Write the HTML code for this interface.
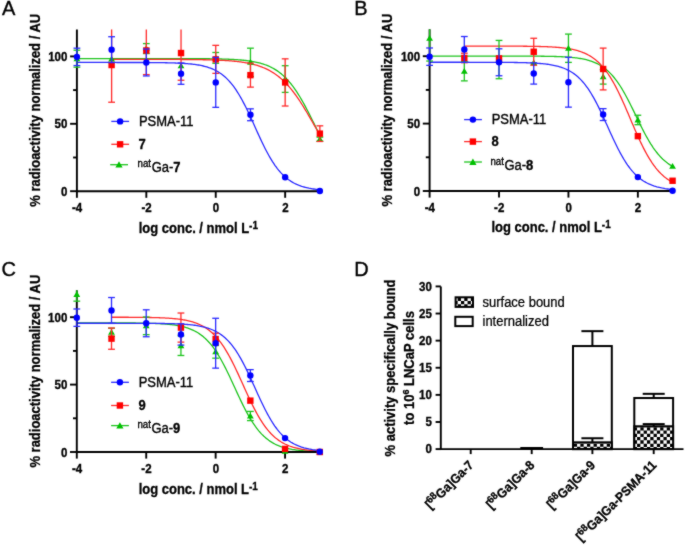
<!DOCTYPE html><html><head><meta charset="utf-8"><style>html,body{margin:0;padding:0;background:#fff;overflow:hidden}svg{display:block;will-change:transform}</style></head><body><svg width="685" height="545" viewBox="0 0 685 545">
<defs><filter id="soft" x="0" y="0" width="685" height="545" filterUnits="userSpaceOnUse" color-interpolation-filters="sRGB"><feConvolveMatrix order="3" kernelMatrix="0.5 1 0.5 1 10 1 0.5 1 0.5" edgeMode="duplicate" preserveAlpha="true"/></filter></defs>
<g filter="url(#soft)">
<rect width="685" height="545" fill="#fff"/>
<text x="2.0" y="14.7" style="font-family:'Liberation Sans',sans-serif;font-size:20px;stroke:#000;stroke-width:0.35px">A</text>
<text x="354.3" y="14.7" style="font-family:'Liberation Sans',sans-serif;font-size:20px;stroke:#000;stroke-width:0.35px">B</text>
<text x="1.5" y="276.0" style="font-family:'Liberation Sans',sans-serif;font-size:20px;stroke:#000;stroke-width:0.35px">C</text>
<text x="354.3" y="276.0" style="font-family:'Liberation Sans',sans-serif;font-size:20px;stroke:#000;stroke-width:0.35px">D</text>
<path d="M76.9,58.56 L78.11,58.56 L79.33,58.56 L80.54,58.56 L81.76,58.56 L82.97,58.56 L84.19,58.56 L85.4,58.56 L86.62,58.56 L87.83,58.56 L89.05,58.56 L90.26,58.56 L91.48,58.56 L92.69,58.56 L93.91,58.56 L95.12,58.56 L96.34,58.56 L97.55,58.56 L98.77,58.56 L99.98,58.56 L101.2,58.56 L102.41,58.56 L103.63,58.56 L104.84,58.56 L106.06,58.56 L107.27,58.56 L108.49,58.56 L109.7,58.56 L110.92,58.56 L112.13,58.56 L113.35,58.56 L114.56,58.56 L115.78,58.56 L116.99,58.56 L118.2,58.56 L119.42,58.56 L120.63,58.56 L121.85,58.56 L123.06,58.56 L124.28,58.56 L125.49,58.56 L126.71,58.56 L127.92,58.56 L129.14,58.56 L130.35,58.56 L131.57,58.56 L132.78,58.56 L134,58.56 L135.21,58.56 L136.43,58.56 L137.64,58.56 L138.86,58.56 L140.07,58.56 L141.29,58.56 L142.5,58.56 L143.72,58.56 L144.93,58.56 L146.15,58.56 L147.36,58.56 L148.58,58.56 L149.79,58.56 L151.01,58.56 L152.22,58.56 L153.44,58.56 L154.65,58.56 L155.87,58.56 L157.08,58.57 L158.29,58.57 L159.51,58.57 L160.72,58.57 L161.94,58.57 L163.15,58.57 L164.37,58.57 L165.58,58.57 L166.8,58.57 L168.01,58.57 L169.23,58.58 L170.44,58.58 L171.66,58.58 L172.87,58.58 L174.09,58.58 L175.3,58.58 L176.52,58.59 L177.73,58.59 L178.95,58.59 L180.16,58.59 L181.38,58.6 L182.59,58.6 L183.81,58.6 L185.02,58.61 L186.24,58.61 L187.45,58.61 L188.67,58.62 L189.88,58.62 L191.1,58.63 L192.31,58.63 L193.53,58.64 L194.74,58.64 L195.96,58.65 L197.17,58.66 L198.38,58.67 L199.6,58.67 L200.81,58.68 L202.03,58.69 L203.24,58.7 L204.46,58.72 L205.67,58.73 L206.89,58.74 L208.1,58.76 L209.32,58.77 L210.53,58.79 L211.75,58.8 L212.96,58.82 L214.18,58.84 L215.39,58.87 L216.61,58.89 L217.82,58.92 L219.04,58.94 L220.25,58.97 L221.47,59 L222.68,59.04 L223.9,59.08 L225.11,59.12 L226.33,59.16 L227.54,59.2 L228.76,59.25 L229.97,59.31 L231.19,59.36 L232.4,59.43 L233.62,59.49 L234.83,59.56 L236.05,59.64 L237.26,59.72 L238.48,59.81 L239.69,59.91 L240.9,60.01 L242.12,60.12 L243.33,60.24 L244.55,60.37 L245.76,60.51 L246.98,60.65 L248.19,60.81 L249.41,60.98 L250.62,61.17 L251.84,61.36 L253.05,61.57 L254.27,61.8 L255.48,62.04 L256.7,62.31 L257.91,62.58 L259.13,62.88 L260.34,63.21 L261.56,63.55 L262.77,63.92 L263.99,64.31 L265.2,64.74 L266.42,65.19 L267.63,65.67 L268.85,66.19 L270.06,66.74 L271.28,67.33 L272.49,67.95 L273.71,68.62 L274.92,69.33 L276.14,70.09 L277.35,70.9 L278.57,71.75 L279.78,72.66 L280.99,73.62 L282.21,74.64 L283.42,75.72 L284.64,76.86 L285.85,78.06 L287.07,79.32 L288.28,80.65 L289.5,82.05 L290.71,83.52 L291.93,85.06 L293.14,86.67 L294.36,88.34 L295.57,90.09 L296.79,91.91 L298,93.79 L299.22,95.74 L300.43,97.76 L301.65,99.84 L302.86,101.98 L304.08,104.17 L305.29,106.41 L306.51,108.7 L307.72,111.04 L308.94,113.4 L310.15,115.8 L311.37,118.23 L312.58,120.67 L313.8,123.12 L315.01,125.58 L316.23,128.04 L317.44,130.48 L318.66,132.92 L319.87,135.33" fill="none" stroke="#1ec41e" stroke-width="1.3"/>
<path d="M111.61,59.37 L112.65,59.37 L113.69,59.37 L114.73,59.37 L115.78,59.37 L116.82,59.37 L117.86,59.37 L118.9,59.37 L119.94,59.37 L120.98,59.37 L122.02,59.37 L123.06,59.37 L124.11,59.37 L125.15,59.37 L126.19,59.37 L127.23,59.37 L128.27,59.37 L129.31,59.37 L130.35,59.37 L131.39,59.37 L132.44,59.37 L133.48,59.37 L134.52,59.38 L135.56,59.38 L136.6,59.38 L137.64,59.38 L138.68,59.38 L139.73,59.38 L140.77,59.38 L141.81,59.38 L142.85,59.38 L143.89,59.38 L144.93,59.38 L145.97,59.38 L147.01,59.38 L148.06,59.39 L149.1,59.39 L150.14,59.39 L151.18,59.39 L152.22,59.39 L153.26,59.39 L154.3,59.39 L155.34,59.39 L156.39,59.4 L157.43,59.4 L158.47,59.4 L159.51,59.4 L160.55,59.4 L161.59,59.41 L162.63,59.41 L163.68,59.41 L164.72,59.41 L165.76,59.42 L166.8,59.42 L167.84,59.42 L168.88,59.42 L169.92,59.43 L170.96,59.43 L172.01,59.43 L173.05,59.44 L174.09,59.44 L175.13,59.45 L176.17,59.45 L177.21,59.46 L178.25,59.46 L179.29,59.47 L180.34,59.47 L181.38,59.48 L182.42,59.49 L183.46,59.49 L184.5,59.5 L185.54,59.51 L186.58,59.52 L187.62,59.52 L188.67,59.53 L189.71,59.54 L190.75,59.55 L191.79,59.56 L192.83,59.57 L193.87,59.59 L194.91,59.6 L195.96,59.61 L197,59.63 L198.04,59.64 L199.08,59.66 L200.12,59.67 L201.16,59.69 L202.2,59.71 L203.24,59.73 L204.29,59.75 L205.33,59.77 L206.37,59.79 L207.41,59.82 L208.45,59.84 L209.49,59.87 L210.53,59.9 L211.57,59.93 L212.62,59.96 L213.66,59.99 L214.7,60.03 L215.74,60.07 L216.78,60.11 L217.82,60.15 L218.86,60.19 L219.91,60.24 L220.95,60.29 L221.99,60.34 L223.03,60.4 L224.07,60.45 L225.11,60.51 L226.15,60.58 L227.19,60.65 L228.24,60.72 L229.28,60.8 L230.32,60.88 L231.36,60.96 L232.4,61.05 L233.44,61.14 L234.48,61.24 L235.52,61.35 L236.57,61.46 L237.61,61.58 L238.65,61.7 L239.69,61.83 L240.73,61.97 L241.77,62.11 L242.81,62.27 L243.86,62.43 L244.9,62.6 L245.94,62.77 L246.98,62.96 L248.02,63.16 L249.06,63.37 L250.1,63.59 L251.14,63.82 L252.19,64.07 L253.23,64.32 L254.27,64.59 L255.31,64.88 L256.35,65.18 L257.39,65.49 L258.43,65.83 L259.47,66.17 L260.52,66.54 L261.56,66.92 L262.6,67.33 L263.64,67.75 L264.68,68.19 L265.72,68.66 L266.76,69.15 L267.81,69.66 L268.85,70.2 L269.89,70.76 L270.93,71.35 L271.97,71.97 L273.01,72.61 L274.05,73.28 L275.09,73.99 L276.14,74.72 L277.18,75.49 L278.22,76.28 L279.26,77.12 L280.3,77.98 L281.34,78.88 L282.38,79.82 L283.42,80.79 L284.47,81.8 L285.51,82.85 L286.55,83.94 L287.59,85.06 L288.63,86.22 L289.67,87.43 L290.71,88.67 L291.75,89.94 L292.8,91.26 L293.84,92.62 L294.88,94.01 L295.92,95.44 L296.96,96.91 L298,98.41 L299.04,99.94 L300.09,101.51 L301.13,103.11 L302.17,104.74 L303.21,106.4 L304.25,108.08 L305.29,109.79 L306.33,111.52 L307.37,113.28 L308.42,115.05 L309.46,116.83 L310.5,118.63 L311.54,120.43 L312.58,122.25 L313.62,124.07 L314.66,125.89 L315.7,127.71 L316.75,129.53 L317.79,131.34 L318.83,133.14 L319.87,134.93" fill="none" stroke="#ff2a2a" stroke-width="1.3"/>
<path d="M76.9,62.47 L78.11,62.47 L79.33,62.47 L80.54,62.47 L81.76,62.47 L82.97,62.47 L84.19,62.47 L85.4,62.47 L86.62,62.47 L87.83,62.47 L89.05,62.47 L90.26,62.47 L91.48,62.47 L92.69,62.47 L93.91,62.47 L95.12,62.47 L96.34,62.47 L97.55,62.47 L98.77,62.47 L99.98,62.47 L101.2,62.47 L102.41,62.47 L103.63,62.47 L104.84,62.47 L106.06,62.47 L107.27,62.47 L108.49,62.47 L109.7,62.47 L110.92,62.47 L112.13,62.47 L113.35,62.47 L114.56,62.47 L115.78,62.47 L116.99,62.48 L118.2,62.48 L119.42,62.48 L120.63,62.48 L121.85,62.48 L123.06,62.48 L124.28,62.48 L125.49,62.48 L126.71,62.48 L127.92,62.49 L129.14,62.49 L130.35,62.49 L131.57,62.49 L132.78,62.49 L134,62.5 L135.21,62.5 L136.43,62.5 L137.64,62.51 L138.86,62.51 L140.07,62.51 L141.29,62.52 L142.5,62.52 L143.72,62.53 L144.93,62.53 L146.15,62.54 L147.36,62.54 L148.58,62.55 L149.79,62.56 L151.01,62.56 L152.22,62.57 L153.44,62.58 L154.65,62.59 L155.87,62.6 L157.08,62.62 L158.29,62.63 L159.51,62.64 L160.72,62.66 L161.94,62.68 L163.15,62.69 L164.37,62.71 L165.58,62.74 L166.8,62.76 L168.01,62.78 L169.23,62.81 L170.44,62.84 L171.66,62.88 L172.87,62.91 L174.09,62.95 L175.3,62.99 L176.52,63.04 L177.73,63.09 L178.95,63.14 L180.16,63.2 L181.38,63.26 L182.59,63.33 L183.81,63.41 L185.02,63.49 L186.24,63.58 L187.45,63.68 L188.67,63.78 L189.88,63.89 L191.1,64.02 L192.31,64.15 L193.53,64.3 L194.74,64.45 L195.96,64.63 L197.17,64.81 L198.38,65.01 L199.6,65.23 L200.81,65.47 L202.03,65.72 L203.24,66 L204.46,66.3 L205.67,66.62 L206.89,66.97 L208.1,67.35 L209.32,67.76 L210.53,68.2 L211.75,68.68 L212.96,69.2 L214.18,69.75 L215.39,70.35 L216.61,70.99 L217.82,71.68 L219.04,72.43 L220.25,73.23 L221.47,74.08 L222.68,75 L223.9,75.98 L225.11,77.03 L226.33,78.14 L227.54,79.34 L228.76,80.6 L229.97,81.95 L231.19,83.37 L232.4,84.88 L233.62,86.48 L234.83,88.16 L236.05,89.93 L237.26,91.78 L238.48,93.72 L239.69,95.75 L240.9,97.86 L242.12,100.05 L243.33,102.32 L244.55,104.66 L245.76,107.07 L246.98,109.54 L248.19,112.07 L249.41,114.65 L250.62,117.27 L251.84,119.92 L253.05,122.6 L254.27,125.29 L255.48,127.99 L256.7,130.68 L257.91,133.36 L259.13,136.02 L260.34,138.64 L261.56,141.23 L262.77,143.77 L263.99,146.25 L265.2,148.67 L266.42,151.02 L267.63,153.3 L268.85,155.5 L270.06,157.62 L271.28,159.66 L272.49,161.61 L273.71,163.48 L274.92,165.26 L276.14,166.95 L277.35,168.56 L278.57,170.08 L279.78,171.52 L280.99,172.88 L282.21,174.15 L283.42,175.36 L284.64,176.48 L285.85,177.54 L287.07,178.53 L288.28,179.46 L289.5,180.32 L290.71,181.13 L291.93,181.88 L293.14,182.58 L294.36,183.23 L295.57,183.83 L296.79,184.39 L298,184.91 L299.22,185.4 L300.43,185.84 L301.65,186.26 L302.86,186.64 L304.08,187 L305.29,187.32 L306.51,187.63 L307.72,187.91 L308.94,188.17 L310.15,188.4 L311.37,188.62 L312.58,188.83 L313.8,189.01 L315.01,189.19 L316.23,189.35 L317.44,189.49 L318.66,189.63 L319.87,189.75" fill="none" stroke="#2a2aff" stroke-width="1.3"/>
<path d="M76.9,29.44 V191.2 H319.87" fill="none" stroke="#000" stroke-width="1.9"/>
<line x1="70.1" y1="191.2" x2="76.9" y2="191.2" stroke="#000" stroke-width="1.9"/>
<text transform="translate(67.4,195.8) scale(0.9174,1)" text-anchor="end" style="font-family:'Liberation Sans',sans-serif;font-weight:bold;stroke:#000;stroke-width:0.35px;font-size:12.54px">0</text>
<line x1="70.1" y1="123.8" x2="76.9" y2="123.8" stroke="#000" stroke-width="1.9"/>
<text transform="translate(67.4,128.4) scale(0.9174,1)" text-anchor="end" style="font-family:'Liberation Sans',sans-serif;font-weight:bold;stroke:#000;stroke-width:0.35px;font-size:12.54px">50</text>
<line x1="70.1" y1="56.4" x2="76.9" y2="56.4" stroke="#000" stroke-width="1.9"/>
<text transform="translate(67.4,61) scale(0.9174,1)" text-anchor="end" style="font-family:'Liberation Sans',sans-serif;font-weight:bold;stroke:#000;stroke-width:0.35px;font-size:12.54px">100</text>
<line x1="73.1" y1="157.5" x2="76.9" y2="157.5" stroke="#000" stroke-width="1.9"/>
<line x1="73.1" y1="90.1" x2="76.9" y2="90.1" stroke="#000" stroke-width="1.9"/>
<line x1="76.9" y1="191.2" x2="76.9" y2="197.8" stroke="#000" stroke-width="1.9"/>
<text transform="translate(77.1,212.1) scale(0.9174,1)" text-anchor="middle" style="font-family:'Liberation Sans',sans-serif;font-weight:bold;stroke:#000;stroke-width:0.35px;font-size:12.54px">-4</text>
<line x1="146.32" y1="191.2" x2="146.32" y2="197.8" stroke="#000" stroke-width="1.9"/>
<text transform="translate(146.52,212.1) scale(0.9174,1)" text-anchor="middle" style="font-family:'Liberation Sans',sans-serif;font-weight:bold;stroke:#000;stroke-width:0.35px;font-size:12.54px">-2</text>
<line x1="215.74" y1="191.2" x2="215.74" y2="197.8" stroke="#000" stroke-width="1.9"/>
<text transform="translate(215.94,212.1) scale(0.9174,1)" text-anchor="middle" style="font-family:'Liberation Sans',sans-serif;font-weight:bold;stroke:#000;stroke-width:0.35px;font-size:12.54px">0</text>
<line x1="285.16" y1="191.2" x2="285.16" y2="197.8" stroke="#000" stroke-width="1.9"/>
<text transform="translate(285.36,212.1) scale(0.9174,1)" text-anchor="middle" style="font-family:'Liberation Sans',sans-serif;font-weight:bold;stroke:#000;stroke-width:0.35px;font-size:12.54px">2</text>
<line x1="76.9" y1="50.2" x2="76.9" y2="67.18" stroke="#1ec41e" stroke-width="1.3"/>
<line x1="73.5" y1="50.2" x2="80.3" y2="50.2" stroke="#1ec41e" stroke-width="1.3"/>
<line x1="73.5" y1="67.18" x2="80.3" y2="67.18" stroke="#1ec41e" stroke-width="1.3"/>
<line x1="146.32" y1="43.59" x2="146.32" y2="53.57" stroke="#1ec41e" stroke-width="1.3"/>
<line x1="142.92" y1="43.59" x2="149.72" y2="43.59" stroke="#1ec41e" stroke-width="1.3"/>
<line x1="142.92" y1="53.57" x2="149.72" y2="53.57" stroke="#1ec41e" stroke-width="1.3"/>
<line x1="215.74" y1="52.49" x2="215.74" y2="63.27" stroke="#1ec41e" stroke-width="1.3"/>
<line x1="212.34" y1="52.49" x2="219.14" y2="52.49" stroke="#1ec41e" stroke-width="1.3"/>
<line x1="212.34" y1="63.27" x2="219.14" y2="63.27" stroke="#1ec41e" stroke-width="1.3"/>
<line x1="250.45" y1="48.18" x2="250.45" y2="76.49" stroke="#1ec41e" stroke-width="1.3"/>
<line x1="247.05" y1="48.18" x2="253.85" y2="48.18" stroke="#1ec41e" stroke-width="1.3"/>
<line x1="247.05" y1="76.49" x2="253.85" y2="76.49" stroke="#1ec41e" stroke-width="1.3"/>
<line x1="285.16" y1="65.7" x2="285.16" y2="92.39" stroke="#1ec41e" stroke-width="1.3"/>
<line x1="281.76" y1="65.7" x2="288.56" y2="65.7" stroke="#1ec41e" stroke-width="1.3"/>
<line x1="281.76" y1="92.39" x2="288.56" y2="92.39" stroke="#1ec41e" stroke-width="1.3"/>
<line x1="319.87" y1="137.15" x2="319.87" y2="141.19" stroke="#1ec41e" stroke-width="1.3"/>
<line x1="316.47" y1="137.15" x2="323.27" y2="137.15" stroke="#1ec41e" stroke-width="1.3"/>
<line x1="316.47" y1="141.19" x2="323.27" y2="141.19" stroke="#1ec41e" stroke-width="1.3"/>
<path d="M76.9,55.39 L80.3,61.19 L73.5,61.19 Z" fill="#00c000"/>
<path d="M111.61,55.8 L115.01,61.6 L108.21,61.6 Z" fill="#00c000"/>
<path d="M146.32,45.28 L149.72,51.08 L142.92,51.08 Z" fill="#00c000"/>
<path d="M181.03,62.4 L184.43,68.2 L177.63,68.2 Z" fill="#00c000"/>
<path d="M215.74,54.58 L219.14,60.38 L212.34,60.38 Z" fill="#00c000"/>
<path d="M250.45,59.03 L253.85,64.83 L247.05,64.83 Z" fill="#00c000"/>
<path d="M285.16,75.75 L288.56,81.55 L281.76,81.55 Z" fill="#00c000"/>
<path d="M319.87,135.87 L323.27,141.67 L316.47,141.67 Z" fill="#00c000"/>
<line x1="111.61" y1="29.44" x2="111.61" y2="102.23" stroke="#ff2a2a" stroke-width="1.3"/>
<line x1="108.21" y1="102.23" x2="115.01" y2="102.23" stroke="#ff2a2a" stroke-width="1.3"/>
<line x1="146.32" y1="29.44" x2="146.32" y2="74.6" stroke="#ff2a2a" stroke-width="1.3"/>
<line x1="142.92" y1="74.6" x2="149.72" y2="74.6" stroke="#ff2a2a" stroke-width="1.3"/>
<line x1="181.03" y1="29.44" x2="181.03" y2="80.26" stroke="#ff2a2a" stroke-width="1.3"/>
<line x1="177.63" y1="80.26" x2="184.43" y2="80.26" stroke="#ff2a2a" stroke-width="1.3"/>
<line x1="215.74" y1="45.35" x2="215.74" y2="73.38" stroke="#ff2a2a" stroke-width="1.3"/>
<line x1="212.34" y1="45.35" x2="219.14" y2="45.35" stroke="#ff2a2a" stroke-width="1.3"/>
<line x1="212.34" y1="73.38" x2="219.14" y2="73.38" stroke="#ff2a2a" stroke-width="1.3"/>
<line x1="250.45" y1="63.14" x2="250.45" y2="87.13" stroke="#ff2a2a" stroke-width="1.3"/>
<line x1="247.05" y1="63.14" x2="253.85" y2="63.14" stroke="#ff2a2a" stroke-width="1.3"/>
<line x1="247.05" y1="87.13" x2="253.85" y2="87.13" stroke="#ff2a2a" stroke-width="1.3"/>
<line x1="285.16" y1="58.83" x2="285.16" y2="106.01" stroke="#ff2a2a" stroke-width="1.3"/>
<line x1="281.76" y1="58.83" x2="288.56" y2="58.83" stroke="#ff2a2a" stroke-width="1.3"/>
<line x1="281.76" y1="106.01" x2="288.56" y2="106.01" stroke="#ff2a2a" stroke-width="1.3"/>
<line x1="319.87" y1="125.82" x2="319.87" y2="141.46" stroke="#ff2a2a" stroke-width="1.3"/>
<line x1="316.47" y1="125.82" x2="323.27" y2="125.82" stroke="#ff2a2a" stroke-width="1.3"/>
<line x1="316.47" y1="141.46" x2="323.27" y2="141.46" stroke="#ff2a2a" stroke-width="1.3"/>
<rect x="108.41" y="61.83" width="6.4" height="6.4" fill="#ff0000"/>
<rect x="143.12" y="47.27" width="6.4" height="6.4" fill="#ff0000"/>
<rect x="177.83" y="49.83" width="6.4" height="6.4" fill="#ff0000"/>
<rect x="212.54" y="56.17" width="6.4" height="6.4" fill="#ff0000"/>
<rect x="247.25" y="71.94" width="6.4" height="6.4" fill="#ff0000"/>
<rect x="281.96" y="79.22" width="6.4" height="6.4" fill="#ff0000"/>
<rect x="316.67" y="130.44" width="6.4" height="6.4" fill="#ff0000"/>
<line x1="76.9" y1="48.18" x2="76.9" y2="65.57" stroke="#2a2aff" stroke-width="1.3"/>
<line x1="73.5" y1="48.18" x2="80.3" y2="48.18" stroke="#2a2aff" stroke-width="1.3"/>
<line x1="73.5" y1="65.57" x2="80.3" y2="65.57" stroke="#2a2aff" stroke-width="1.3"/>
<line x1="111.61" y1="36.72" x2="111.61" y2="62.6" stroke="#2a2aff" stroke-width="1.3"/>
<line x1="108.21" y1="36.72" x2="115.01" y2="36.72" stroke="#2a2aff" stroke-width="1.3"/>
<line x1="108.21" y1="62.6" x2="115.01" y2="62.6" stroke="#2a2aff" stroke-width="1.3"/>
<line x1="146.32" y1="48.99" x2="146.32" y2="75.95" stroke="#2a2aff" stroke-width="1.3"/>
<line x1="142.92" y1="48.99" x2="149.72" y2="48.99" stroke="#2a2aff" stroke-width="1.3"/>
<line x1="142.92" y1="75.95" x2="149.72" y2="75.95" stroke="#2a2aff" stroke-width="1.3"/>
<line x1="181.03" y1="63.01" x2="181.03" y2="84.3" stroke="#2a2aff" stroke-width="1.3"/>
<line x1="177.63" y1="63.01" x2="184.43" y2="63.01" stroke="#2a2aff" stroke-width="1.3"/>
<line x1="177.63" y1="84.3" x2="184.43" y2="84.3" stroke="#2a2aff" stroke-width="1.3"/>
<line x1="215.74" y1="57.48" x2="215.74" y2="107.35" stroke="#2a2aff" stroke-width="1.3"/>
<line x1="212.34" y1="57.48" x2="219.14" y2="57.48" stroke="#2a2aff" stroke-width="1.3"/>
<line x1="212.34" y1="107.35" x2="219.14" y2="107.35" stroke="#2a2aff" stroke-width="1.3"/>
<line x1="250.45" y1="108.84" x2="250.45" y2="120.7" stroke="#2a2aff" stroke-width="1.3"/>
<line x1="247.05" y1="108.84" x2="253.85" y2="108.84" stroke="#2a2aff" stroke-width="1.3"/>
<line x1="247.05" y1="120.7" x2="253.85" y2="120.7" stroke="#2a2aff" stroke-width="1.3"/>
<circle cx="76.9" cy="56.87" r="3.2" fill="#0000ff"/>
<circle cx="111.61" cy="49.66" r="3.2" fill="#0000ff"/>
<circle cx="146.32" cy="62.47" r="3.2" fill="#0000ff"/>
<circle cx="181.03" cy="73.65" r="3.2" fill="#0000ff"/>
<circle cx="215.74" cy="82.42" r="3.2" fill="#0000ff"/>
<circle cx="250.45" cy="114.77" r="3.2" fill="#0000ff"/>
<circle cx="285.16" cy="177.32" r="3.2" fill="#0000ff"/>
<circle cx="319.87" cy="190.93" r="3.2" fill="#0000ff"/>
<text transform="translate(198.38,233.2) scale(0.9259,1)" text-anchor="middle" style="font-family:'Liberation Sans',sans-serif;font-weight:bold;stroke:#000;stroke-width:0.3px;font-size:14.04px">log conc. / nmol L<tspan dy="-4.2" font-size="10.80px">-1</tspan></text>
<text transform="translate(40.2,110.32) rotate(-90) scale(0.9259,1)" text-anchor="middle" style="font-family:'Liberation Sans',sans-serif;font-weight:bold;stroke:#000;stroke-width:0.3px;font-size:14.04px">% radioactivity normalized / AU</text>
<line x1="111.3" y1="121.4" x2="129.1" y2="121.4" stroke="#2a2aff" stroke-width="1.3"/>
<circle cx="120.1" cy="121.4" r="3.2" fill="#0000ff"/>
<line x1="111.3" y1="144.3" x2="129.1" y2="144.3" stroke="#ff2a2a" stroke-width="1.3"/>
<rect x="116.9" y="141.1" width="6.4" height="6.4" fill="#ff0000"/>
<line x1="110.2" y1="164.7" x2="128" y2="164.7" stroke="#1ec41e" stroke-width="1.3"/>
<path d="M119,161.3 L122.6,167.6 L115.4,167.6 Z" fill="#00c000"/>
<text transform="translate(138.9,125.7) scale(0.9346,1)" style="font-family:'Liberation Sans',sans-serif;stroke:#000;stroke-width:0.35px;font-size:13.91px">PSMA-11</text>
<text transform="translate(138.6,148.6) scale(0.9346,1)" style="font-family:'Liberation Sans',sans-serif;font-weight:bold;stroke:#000;stroke-width:0.3px;font-size:13.91px">7</text>
<text transform="translate(137.6,172.2) scale(0.9346,1)" style="font-family:'Liberation Sans',sans-serif;stroke:#000;stroke-width:0.35px;font-size:13.91px"><tspan font-size="10.38px" dy="-4.9">nat</tspan><tspan dy="4.9" dx="0.6">Ga-</tspan><tspan font-weight="bold" font-size="13.91px">7</tspan></text>
<path d="M429.6,56.07 L430.81,56.07 L432.03,56.07 L433.24,56.07 L434.46,56.07 L435.67,56.07 L436.89,56.07 L438.1,56.07 L439.32,56.07 L440.53,56.07 L441.75,56.07 L442.96,56.07 L444.18,56.07 L445.39,56.07 L446.61,56.07 L447.82,56.07 L449.04,56.07 L450.25,56.07 L451.47,56.07 L452.68,56.07 L453.9,56.07 L455.11,56.07 L456.33,56.07 L457.54,56.07 L458.76,56.07 L459.97,56.07 L461.19,56.07 L462.4,56.07 L463.62,56.07 L464.83,56.07 L466.05,56.07 L467.26,56.07 L468.48,56.07 L469.69,56.07 L470.9,56.07 L472.12,56.07 L473.33,56.07 L474.55,56.07 L475.76,56.07 L476.98,56.07 L478.19,56.07 L479.41,56.07 L480.62,56.07 L481.84,56.07 L483.05,56.07 L484.27,56.07 L485.48,56.07 L486.7,56.07 L487.91,56.07 L489.13,56.07 L490.34,56.07 L491.56,56.07 L492.77,56.07 L493.99,56.07 L495.2,56.07 L496.42,56.07 L497.63,56.07 L498.85,56.07 L500.06,56.07 L501.28,56.08 L502.49,56.08 L503.71,56.08 L504.92,56.08 L506.14,56.08 L507.35,56.08 L508.57,56.08 L509.78,56.08 L510.99,56.09 L512.21,56.09 L513.42,56.09 L514.64,56.09 L515.85,56.09 L517.07,56.1 L518.28,56.1 L519.5,56.1 L520.71,56.1 L521.93,56.11 L523.14,56.11 L524.36,56.12 L525.57,56.12 L526.79,56.13 L528,56.13 L529.22,56.14 L530.43,56.14 L531.65,56.15 L532.86,56.16 L534.08,56.16 L535.29,56.17 L536.51,56.18 L537.72,56.19 L538.94,56.2 L540.15,56.22 L541.37,56.23 L542.58,56.24 L543.8,56.26 L545.01,56.28 L546.23,56.3 L547.44,56.32 L548.66,56.34 L549.87,56.36 L551.09,56.39 L552.3,56.42 L553.51,56.45 L554.73,56.48 L555.94,56.52 L557.16,56.56 L558.37,56.6 L559.59,56.65 L560.8,56.7 L562.02,56.76 L563.23,56.82 L564.45,56.89 L565.66,56.96 L566.88,57.04 L568.09,57.12 L569.31,57.21 L570.52,57.31 L571.74,57.42 L572.95,57.54 L574.17,57.67 L575.38,57.81 L576.6,57.96 L577.81,58.12 L579.03,58.3 L580.24,58.5 L581.46,58.71 L582.67,58.93 L583.89,59.18 L585.1,59.45 L586.32,59.74 L587.53,60.05 L588.75,60.39 L589.96,60.76 L591.18,61.15 L592.39,61.58 L593.6,62.04 L594.82,62.54 L596.03,63.08 L597.25,63.66 L598.46,64.28 L599.68,64.95 L600.89,65.68 L602.11,66.45 L603.32,67.28 L604.54,68.17 L605.75,69.12 L606.97,70.14 L608.18,71.22 L609.4,72.38 L610.61,73.6 L611.83,74.91 L613.04,76.29 L614.26,77.75 L615.47,79.29 L616.69,80.91 L617.9,82.61 L619.12,84.4 L620.33,86.26 L621.55,88.21 L622.76,90.23 L623.98,92.33 L625.19,94.49 L626.41,96.72 L627.62,99.02 L628.84,101.36 L630.05,103.76 L631.27,106.19 L632.48,108.66 L633.69,111.15 L634.91,113.65 L636.12,116.16 L637.34,118.67 L638.55,121.17 L639.77,123.65 L640.98,126.1 L642.2,128.51 L643.41,130.87 L644.63,133.19 L645.84,135.45 L647.06,137.64 L648.27,139.77 L649.49,141.82 L650.7,143.8 L651.92,145.7 L653.13,147.52 L654.35,149.26 L655.56,150.92 L656.78,152.49 L657.99,153.99 L659.21,155.4 L660.42,156.74 L661.64,158 L662.85,159.18 L664.07,160.29 L665.28,161.34 L666.5,162.32 L667.71,163.23 L668.93,164.09 L670.14,164.89 L671.36,165.63 L672.57,166.32" fill="none" stroke="#1ec41e" stroke-width="1.3"/>
<path d="M464.31,46.09 L465.35,46.09 L466.39,46.09 L467.43,46.09 L468.48,46.09 L469.52,46.09 L470.56,46.09 L471.6,46.09 L472.64,46.1 L473.68,46.1 L474.72,46.1 L475.76,46.1 L476.81,46.1 L477.85,46.1 L478.89,46.1 L479.93,46.1 L480.97,46.1 L482.01,46.1 L483.05,46.1 L484.09,46.1 L485.14,46.1 L486.18,46.1 L487.22,46.1 L488.26,46.1 L489.3,46.11 L490.34,46.11 L491.38,46.11 L492.43,46.11 L493.47,46.11 L494.51,46.11 L495.55,46.11 L496.59,46.11 L497.63,46.12 L498.67,46.12 L499.71,46.12 L500.76,46.12 L501.8,46.12 L502.84,46.13 L503.88,46.13 L504.92,46.13 L505.96,46.13 L507,46.14 L508.04,46.14 L509.09,46.15 L510.13,46.15 L511.17,46.15 L512.21,46.16 L513.25,46.16 L514.29,46.17 L515.33,46.17 L516.38,46.18 L517.42,46.18 L518.46,46.19 L519.5,46.2 L520.54,46.21 L521.58,46.21 L522.62,46.22 L523.66,46.23 L524.71,46.24 L525.75,46.25 L526.79,46.26 L527.83,46.28 L528.87,46.29 L529.91,46.3 L530.95,46.32 L531.99,46.33 L533.04,46.35 L534.08,46.37 L535.12,46.39 L536.16,46.41 L537.2,46.43 L538.24,46.46 L539.28,46.48 L540.32,46.51 L541.37,46.54 L542.41,46.57 L543.45,46.6 L544.49,46.64 L545.53,46.68 L546.57,46.72 L547.61,46.76 L548.66,46.81 L549.7,46.86 L550.74,46.91 L551.78,46.97 L552.82,47.03 L553.86,47.09 L554.9,47.16 L555.94,47.24 L556.99,47.32 L558.03,47.4 L559.07,47.5 L560.11,47.59 L561.15,47.7 L562.19,47.81 L563.23,47.93 L564.27,48.05 L565.32,48.19 L566.36,48.33 L567.4,48.49 L568.44,48.65 L569.48,48.83 L570.52,49.02 L571.56,49.22 L572.61,49.43 L573.65,49.66 L574.69,49.91 L575.73,50.16 L576.77,50.44 L577.81,50.74 L578.85,51.05 L579.89,51.39 L580.94,51.74 L581.98,52.12 L583.02,52.53 L584.06,52.95 L585.1,53.41 L586.14,53.9 L587.18,54.41 L588.22,54.96 L589.27,55.54 L590.31,56.16 L591.35,56.81 L592.39,57.5 L593.43,58.23 L594.47,59.01 L595.51,59.83 L596.56,60.69 L597.6,61.6 L598.64,62.57 L599.68,63.58 L600.72,64.65 L601.76,65.77 L602.8,66.95 L603.84,68.19 L604.89,69.49 L605.93,70.85 L606.97,72.27 L608.01,73.75 L609.05,75.3 L610.09,76.91 L611.13,78.59 L612.17,80.32 L613.22,82.13 L614.26,83.99 L615.3,85.91 L616.34,87.9 L617.38,89.94 L618.42,92.04 L619.46,94.19 L620.5,96.39 L621.55,98.63 L622.59,100.92 L623.63,103.25 L624.67,105.61 L625.71,107.99 L626.75,110.4 L627.79,112.83 L628.84,115.28 L629.88,117.73 L630.92,120.18 L631.96,122.63 L633,125.07 L634.04,127.49 L635.08,129.9 L636.12,132.27 L637.17,134.62 L638.21,136.94 L639.25,139.21 L640.29,141.44 L641.33,143.62 L642.37,145.76 L643.41,147.84 L644.45,149.86 L645.5,151.82 L646.54,153.73 L647.58,155.57 L648.62,157.35 L649.66,159.07 L650.7,160.72 L651.74,162.31 L652.79,163.84 L653.83,165.3 L654.87,166.7 L655.91,168.04 L656.95,169.32 L657.99,170.54 L659.03,171.7 L660.07,172.8 L661.12,173.85 L662.16,174.85 L663.2,175.8 L664.24,176.69 L665.28,177.54 L666.32,178.35 L667.36,179.11 L668.4,179.83 L669.45,180.5 L670.49,181.14 L671.53,181.75 L672.57,182.32" fill="none" stroke="#ff2a2a" stroke-width="1.3"/>
<path d="M429.6,62.27 L430.81,62.27 L432.03,62.27 L433.24,62.27 L434.46,62.27 L435.67,62.27 L436.89,62.27 L438.1,62.27 L439.32,62.27 L440.53,62.27 L441.75,62.27 L442.96,62.27 L444.18,62.27 L445.39,62.27 L446.61,62.27 L447.82,62.27 L449.04,62.27 L450.25,62.27 L451.47,62.27 L452.68,62.27 L453.9,62.27 L455.11,62.27 L456.33,62.27 L457.54,62.27 L458.76,62.27 L459.97,62.27 L461.19,62.27 L462.4,62.27 L463.62,62.27 L464.83,62.27 L466.05,62.27 L467.26,62.27 L468.48,62.27 L469.69,62.28 L470.9,62.28 L472.12,62.28 L473.33,62.28 L474.55,62.28 L475.76,62.28 L476.98,62.28 L478.19,62.28 L479.41,62.28 L480.62,62.29 L481.84,62.29 L483.05,62.29 L484.27,62.29 L485.48,62.29 L486.7,62.3 L487.91,62.3 L489.13,62.3 L490.34,62.31 L491.56,62.31 L492.77,62.31 L493.99,62.32 L495.2,62.32 L496.42,62.33 L497.63,62.33 L498.85,62.34 L500.06,62.34 L501.28,62.35 L502.49,62.36 L503.71,62.36 L504.92,62.37 L506.14,62.38 L507.35,62.39 L508.57,62.4 L509.78,62.42 L510.99,62.43 L512.21,62.44 L513.42,62.46 L514.64,62.48 L515.85,62.49 L517.07,62.51 L518.28,62.54 L519.5,62.56 L520.71,62.58 L521.93,62.61 L523.14,62.64 L524.36,62.68 L525.57,62.71 L526.79,62.75 L528,62.79 L529.22,62.84 L530.43,62.89 L531.65,62.94 L532.86,63 L534.08,63.06 L535.29,63.13 L536.51,63.21 L537.72,63.29 L538.94,63.38 L540.15,63.48 L541.37,63.58 L542.58,63.69 L543.8,63.82 L545.01,63.95 L546.23,64.1 L547.44,64.25 L548.66,64.43 L549.87,64.61 L551.09,64.81 L552.3,65.03 L553.51,65.27 L554.73,65.52 L555.94,65.8 L557.16,66.1 L558.37,66.42 L559.59,66.77 L560.8,67.15 L562.02,67.56 L563.23,68 L564.45,68.48 L565.66,69 L566.88,69.55 L568.09,70.15 L569.31,70.79 L570.52,71.48 L571.74,72.23 L572.95,73.03 L574.17,73.88 L575.38,74.8 L576.6,75.78 L577.81,76.83 L579.03,77.94 L580.24,79.14 L581.46,80.4 L582.67,81.75 L583.89,83.17 L585.1,84.68 L586.32,86.28 L587.53,87.96 L588.75,89.73 L589.96,91.58 L591.18,93.52 L592.39,95.55 L593.6,97.66 L594.82,99.85 L596.03,102.12 L597.25,104.46 L598.46,106.87 L599.68,109.34 L600.89,111.87 L602.11,114.45 L603.32,117.07 L604.54,119.72 L605.75,122.4 L606.97,125.09 L608.18,127.79 L609.4,130.48 L610.61,133.16 L611.83,135.82 L613.04,138.44 L614.26,141.03 L615.47,143.57 L616.69,146.05 L617.9,148.47 L619.12,150.82 L620.33,153.1 L621.55,155.3 L622.76,157.42 L623.98,159.46 L625.19,161.41 L626.41,163.28 L627.62,165.06 L628.84,166.75 L630.05,168.36 L631.27,169.88 L632.48,171.32 L633.69,172.68 L634.91,173.95 L636.12,175.16 L637.34,176.28 L638.55,177.34 L639.77,178.33 L640.98,179.26 L642.2,180.12 L643.41,180.93 L644.63,181.68 L645.84,182.38 L647.06,183.03 L648.27,183.63 L649.49,184.19 L650.7,184.71 L651.92,185.2 L653.13,185.64 L654.35,186.06 L655.56,186.44 L656.78,186.8 L657.99,187.12 L659.21,187.43 L660.42,187.71 L661.64,187.97 L662.85,188.2 L664.07,188.42 L665.28,188.63 L666.5,188.81 L667.71,188.99 L668.93,189.15 L670.14,189.29 L671.36,189.43 L672.57,189.55" fill="none" stroke="#2a2aff" stroke-width="1.3"/>
<path d="M429.6,29.24 V191 H672.57" fill="none" stroke="#000" stroke-width="1.9"/>
<line x1="422.8" y1="191" x2="429.6" y2="191" stroke="#000" stroke-width="1.9"/>
<text transform="translate(420.1,195.6) scale(0.9174,1)" text-anchor="end" style="font-family:'Liberation Sans',sans-serif;font-weight:bold;stroke:#000;stroke-width:0.35px;font-size:12.54px">0</text>
<line x1="422.8" y1="123.6" x2="429.6" y2="123.6" stroke="#000" stroke-width="1.9"/>
<text transform="translate(420.1,128.2) scale(0.9174,1)" text-anchor="end" style="font-family:'Liberation Sans',sans-serif;font-weight:bold;stroke:#000;stroke-width:0.35px;font-size:12.54px">50</text>
<line x1="422.8" y1="56.2" x2="429.6" y2="56.2" stroke="#000" stroke-width="1.9"/>
<text transform="translate(420.1,60.8) scale(0.9174,1)" text-anchor="end" style="font-family:'Liberation Sans',sans-serif;font-weight:bold;stroke:#000;stroke-width:0.35px;font-size:12.54px">100</text>
<line x1="425.8" y1="157.3" x2="429.6" y2="157.3" stroke="#000" stroke-width="1.9"/>
<line x1="425.8" y1="89.9" x2="429.6" y2="89.9" stroke="#000" stroke-width="1.9"/>
<line x1="429.6" y1="191" x2="429.6" y2="197.6" stroke="#000" stroke-width="1.9"/>
<text transform="translate(429.8,211.9) scale(0.9174,1)" text-anchor="middle" style="font-family:'Liberation Sans',sans-serif;font-weight:bold;stroke:#000;stroke-width:0.35px;font-size:12.54px">-4</text>
<line x1="499.02" y1="191" x2="499.02" y2="197.6" stroke="#000" stroke-width="1.9"/>
<text transform="translate(499.22,211.9) scale(0.9174,1)" text-anchor="middle" style="font-family:'Liberation Sans',sans-serif;font-weight:bold;stroke:#000;stroke-width:0.35px;font-size:12.54px">-2</text>
<line x1="568.44" y1="191" x2="568.44" y2="197.6" stroke="#000" stroke-width="1.9"/>
<text transform="translate(568.64,211.9) scale(0.9174,1)" text-anchor="middle" style="font-family:'Liberation Sans',sans-serif;font-weight:bold;stroke:#000;stroke-width:0.35px;font-size:12.54px">0</text>
<line x1="637.86" y1="191" x2="637.86" y2="197.6" stroke="#000" stroke-width="1.9"/>
<text transform="translate(638.06,211.9) scale(0.9174,1)" text-anchor="middle" style="font-family:'Liberation Sans',sans-serif;font-weight:bold;stroke:#000;stroke-width:0.35px;font-size:12.54px">2</text>
<line x1="429.6" y1="29.24" x2="429.6" y2="61.05" stroke="#1ec41e" stroke-width="1.3"/>
<line x1="426.2" y1="61.05" x2="433" y2="61.05" stroke="#1ec41e" stroke-width="1.3"/>
<line x1="464.31" y1="61.73" x2="464.31" y2="80.87" stroke="#1ec41e" stroke-width="1.3"/>
<line x1="460.91" y1="61.73" x2="467.71" y2="61.73" stroke="#1ec41e" stroke-width="1.3"/>
<line x1="460.91" y1="80.87" x2="467.71" y2="80.87" stroke="#1ec41e" stroke-width="1.3"/>
<line x1="499.02" y1="40.43" x2="499.02" y2="78.71" stroke="#1ec41e" stroke-width="1.3"/>
<line x1="495.62" y1="40.43" x2="502.42" y2="40.43" stroke="#1ec41e" stroke-width="1.3"/>
<line x1="495.62" y1="78.71" x2="502.42" y2="78.71" stroke="#1ec41e" stroke-width="1.3"/>
<line x1="568.44" y1="34.09" x2="568.44" y2="62.4" stroke="#1ec41e" stroke-width="1.3"/>
<line x1="565.04" y1="34.09" x2="571.84" y2="34.09" stroke="#1ec41e" stroke-width="1.3"/>
<line x1="565.04" y1="62.4" x2="571.84" y2="62.4" stroke="#1ec41e" stroke-width="1.3"/>
<line x1="603.15" y1="69.55" x2="603.15" y2="84.1" stroke="#1ec41e" stroke-width="1.3"/>
<line x1="599.75" y1="69.55" x2="606.55" y2="69.55" stroke="#1ec41e" stroke-width="1.3"/>
<line x1="599.75" y1="84.1" x2="606.55" y2="84.1" stroke="#1ec41e" stroke-width="1.3"/>
<line x1="637.86" y1="115.24" x2="637.86" y2="124.68" stroke="#1ec41e" stroke-width="1.3"/>
<line x1="634.46" y1="115.24" x2="641.26" y2="115.24" stroke="#1ec41e" stroke-width="1.3"/>
<line x1="634.46" y1="124.68" x2="641.26" y2="124.68" stroke="#1ec41e" stroke-width="1.3"/>
<path d="M429.6,34.97 L433,40.77 L426.2,40.77 Z" fill="#00c000"/>
<path d="M464.31,68 L467.71,73.8 L460.91,73.8 Z" fill="#00c000"/>
<path d="M499.02,56.27 L502.42,62.07 L495.62,62.07 Z" fill="#00c000"/>
<path d="M533.73,59.37 L537.13,65.17 L530.33,65.17 Z" fill="#00c000"/>
<path d="M568.44,44.95 L571.84,50.75 L565.04,50.75 Z" fill="#00c000"/>
<path d="M603.15,73.52 L606.55,79.32 L599.75,79.32 Z" fill="#00c000"/>
<path d="M637.86,116.66 L641.26,122.46 L634.46,122.46 Z" fill="#00c000"/>
<path d="M672.57,163.03 L675.97,168.83 L669.17,168.83 Z" fill="#00c000"/>
<line x1="464.31" y1="53.23" x2="464.31" y2="62.67" stroke="#ff2a2a" stroke-width="1.3"/>
<line x1="460.91" y1="53.23" x2="467.71" y2="53.23" stroke="#ff2a2a" stroke-width="1.3"/>
<line x1="460.91" y1="62.67" x2="467.71" y2="62.67" stroke="#ff2a2a" stroke-width="1.3"/>
<line x1="533.73" y1="38.27" x2="533.73" y2="65.23" stroke="#ff2a2a" stroke-width="1.3"/>
<line x1="530.33" y1="38.27" x2="537.13" y2="38.27" stroke="#ff2a2a" stroke-width="1.3"/>
<line x1="530.33" y1="65.23" x2="537.13" y2="65.23" stroke="#ff2a2a" stroke-width="1.3"/>
<line x1="603.15" y1="48.11" x2="603.15" y2="89.9" stroke="#ff2a2a" stroke-width="1.3"/>
<line x1="599.75" y1="48.11" x2="606.55" y2="48.11" stroke="#ff2a2a" stroke-width="1.3"/>
<line x1="599.75" y1="89.9" x2="606.55" y2="89.9" stroke="#ff2a2a" stroke-width="1.3"/>
<rect x="461.11" y="54.75" width="6.4" height="6.4" fill="#ff0000"/>
<rect x="495.82" y="55.16" width="6.4" height="6.4" fill="#ff0000"/>
<rect x="530.53" y="48.55" width="6.4" height="6.4" fill="#ff0000"/>
<rect x="599.95" y="65.81" width="6.4" height="6.4" fill="#ff0000"/>
<rect x="634.66" y="132.94" width="6.4" height="6.4" fill="#ff0000"/>
<rect x="669.37" y="177.56" width="6.4" height="6.4" fill="#ff0000"/>
<line x1="429.6" y1="47.98" x2="429.6" y2="65.37" stroke="#2a2aff" stroke-width="1.3"/>
<line x1="426.2" y1="47.98" x2="433" y2="47.98" stroke="#2a2aff" stroke-width="1.3"/>
<line x1="426.2" y1="65.37" x2="433" y2="65.37" stroke="#2a2aff" stroke-width="1.3"/>
<line x1="464.31" y1="36.52" x2="464.31" y2="62.4" stroke="#2a2aff" stroke-width="1.3"/>
<line x1="460.91" y1="36.52" x2="467.71" y2="36.52" stroke="#2a2aff" stroke-width="1.3"/>
<line x1="460.91" y1="62.4" x2="467.71" y2="62.4" stroke="#2a2aff" stroke-width="1.3"/>
<line x1="499.02" y1="48.79" x2="499.02" y2="75.75" stroke="#2a2aff" stroke-width="1.3"/>
<line x1="495.62" y1="48.79" x2="502.42" y2="48.79" stroke="#2a2aff" stroke-width="1.3"/>
<line x1="495.62" y1="75.75" x2="502.42" y2="75.75" stroke="#2a2aff" stroke-width="1.3"/>
<line x1="533.73" y1="62.81" x2="533.73" y2="84.1" stroke="#2a2aff" stroke-width="1.3"/>
<line x1="530.33" y1="62.81" x2="537.13" y2="62.81" stroke="#2a2aff" stroke-width="1.3"/>
<line x1="530.33" y1="84.1" x2="537.13" y2="84.1" stroke="#2a2aff" stroke-width="1.3"/>
<line x1="568.44" y1="57.28" x2="568.44" y2="107.15" stroke="#2a2aff" stroke-width="1.3"/>
<line x1="565.04" y1="57.28" x2="571.84" y2="57.28" stroke="#2a2aff" stroke-width="1.3"/>
<line x1="565.04" y1="107.15" x2="571.84" y2="107.15" stroke="#2a2aff" stroke-width="1.3"/>
<line x1="603.15" y1="108.64" x2="603.15" y2="120.5" stroke="#2a2aff" stroke-width="1.3"/>
<line x1="599.75" y1="108.64" x2="606.55" y2="108.64" stroke="#2a2aff" stroke-width="1.3"/>
<line x1="599.75" y1="120.5" x2="606.55" y2="120.5" stroke="#2a2aff" stroke-width="1.3"/>
<circle cx="429.6" cy="56.67" r="3.2" fill="#0000ff"/>
<circle cx="464.31" cy="49.46" r="3.2" fill="#0000ff"/>
<circle cx="499.02" cy="62.27" r="3.2" fill="#0000ff"/>
<circle cx="533.73" cy="73.45" r="3.2" fill="#0000ff"/>
<circle cx="568.44" cy="82.22" r="3.2" fill="#0000ff"/>
<circle cx="603.15" cy="114.57" r="3.2" fill="#0000ff"/>
<circle cx="637.86" cy="177.12" r="3.2" fill="#0000ff"/>
<circle cx="672.57" cy="190.73" r="3.2" fill="#0000ff"/>
<text transform="translate(551.09,232) scale(0.9259,1)" text-anchor="middle" style="font-family:'Liberation Sans',sans-serif;font-weight:bold;stroke:#000;stroke-width:0.3px;font-size:14.04px">log conc. / nmol L<tspan dy="-4.2" font-size="10.80px">-1</tspan></text>
<text transform="translate(392,110.12) rotate(-90) scale(0.9259,1)" text-anchor="middle" style="font-family:'Liberation Sans',sans-serif;font-weight:bold;stroke:#000;stroke-width:0.3px;font-size:14.04px">% radioactivity normalized / AU</text>
<line x1="464.1" y1="119.6" x2="481.9" y2="119.6" stroke="#2a2aff" stroke-width="1.3"/>
<circle cx="472.9" cy="119.6" r="3.2" fill="#0000ff"/>
<line x1="464.1" y1="141.6" x2="481.9" y2="141.6" stroke="#ff2a2a" stroke-width="1.3"/>
<rect x="469.7" y="138.4" width="6.4" height="6.4" fill="#ff0000"/>
<line x1="464.1" y1="162" x2="481.9" y2="162" stroke="#1ec41e" stroke-width="1.3"/>
<path d="M472.9,158.6 L476.5,164.9 L469.3,164.9 Z" fill="#00c000"/>
<text transform="translate(491.7,123.9) scale(0.9346,1)" style="font-family:'Liberation Sans',sans-serif;stroke:#000;stroke-width:0.35px;font-size:13.91px">PSMA-11</text>
<text transform="translate(491.4,145.9) scale(0.9346,1)" style="font-family:'Liberation Sans',sans-serif;font-weight:bold;stroke:#000;stroke-width:0.3px;font-size:13.91px">8</text>
<text transform="translate(490.4,169.5) scale(0.9346,1)" style="font-family:'Liberation Sans',sans-serif;stroke:#000;stroke-width:0.35px;font-size:13.91px"><tspan font-size="10.38px" dy="-4.9">nat</tspan><tspan dy="4.9" dx="0.6">Ga-</tspan><tspan font-weight="bold" font-size="13.91px">8</tspan></text>
<path d="M76.8,322.86 L78.01,322.86 L79.23,322.87 L80.44,322.87 L81.66,322.87 L82.87,322.87 L84.09,322.87 L85.3,322.87 L86.52,322.87 L87.73,322.87 L88.95,322.87 L90.16,322.87 L91.38,322.87 L92.59,322.87 L93.81,322.87 L95.02,322.87 L96.24,322.87 L97.45,322.87 L98.67,322.87 L99.88,322.88 L101.1,322.88 L102.31,322.88 L103.53,322.88 L104.74,322.88 L105.96,322.88 L107.17,322.89 L108.39,322.89 L109.6,322.89 L110.82,322.89 L112.03,322.89 L113.25,322.9 L114.46,322.9 L115.68,322.9 L116.89,322.91 L118.1,322.91 L119.32,322.92 L120.53,322.92 L121.75,322.92 L122.96,322.93 L124.18,322.94 L125.39,322.94 L126.61,322.95 L127.82,322.96 L129.04,322.96 L130.25,322.97 L131.47,322.98 L132.68,322.99 L133.9,323 L135.11,323.02 L136.33,323.03 L137.54,323.04 L138.76,323.06 L139.97,323.08 L141.19,323.1 L142.4,323.12 L143.62,323.14 L144.83,323.16 L146.05,323.19 L147.26,323.21 L148.48,323.24 L149.69,323.28 L150.91,323.31 L152.12,323.35 L153.34,323.39 L154.55,323.44 L155.77,323.49 L156.98,323.54 L158.19,323.6 L159.41,323.66 L160.62,323.73 L161.84,323.8 L163.05,323.88 L164.27,323.97 L165.48,324.06 L166.7,324.16 L167.91,324.27 L169.13,324.39 L170.34,324.52 L171.56,324.66 L172.77,324.81 L173.99,324.97 L175.2,325.15 L176.42,325.34 L177.63,325.55 L178.85,325.77 L180.06,326.02 L181.28,326.28 L182.49,326.56 L183.71,326.87 L184.92,327.2 L186.14,327.56 L187.35,327.94 L188.57,328.36 L189.78,328.81 L191,329.29 L192.21,329.81 L193.43,330.37 L194.64,330.97 L195.86,331.62 L197.07,332.31 L198.28,333.06 L199.5,333.86 L200.71,334.71 L201.93,335.62 L203.14,336.6 L204.36,337.64 L205.57,338.75 L206.79,339.92 L208,341.18 L209.22,342.5 L210.43,343.91 L211.65,345.4 L212.86,346.96 L214.08,348.61 L215.29,350.35 L216.51,352.16 L217.72,354.06 L218.94,356.04 L220.15,358.11 L221.37,360.25 L222.58,362.46 L223.8,364.75 L225.01,367.11 L226.23,369.52 L227.44,371.99 L228.66,374.52 L229.87,377.08 L231.09,379.67 L232.3,382.3 L233.52,384.93 L234.73,387.58 L235.95,390.23 L237.16,392.87 L238.38,395.49 L239.59,398.08 L240.8,400.64 L242.02,403.15 L243.23,405.62 L244.45,408.03 L245.66,410.37 L246.88,412.65 L248.09,414.86 L249.31,416.99 L250.52,419.05 L251.74,421.02 L252.95,422.91 L254.17,424.72 L255.38,426.44 L256.6,428.08 L257.81,429.64 L259.03,431.12 L260.24,432.51 L261.46,433.83 L262.67,435.08 L263.89,436.25 L265.1,437.35 L266.32,438.38 L267.53,439.35 L268.75,440.25 L269.96,441.1 L271.18,441.89 L272.39,442.63 L273.61,443.32 L274.82,443.96 L276.04,444.56 L277.25,445.11 L278.47,445.63 L279.68,446.11 L280.89,446.55 L282.11,446.96 L283.32,447.35 L284.54,447.7 L285.75,448.03 L286.97,448.33 L288.18,448.61 L289.4,448.87 L290.61,449.11 L291.83,449.34 L293.04,449.54 L294.26,449.73 L295.47,449.91 L296.69,450.07 L297.9,450.22 L299.12,450.36 L300.33,450.49 L301.55,450.6 L302.76,450.71 L303.98,450.81 L305.19,450.91 L306.41,450.99 L307.62,451.07 L308.84,451.14 L310.05,451.21 L311.27,451.27 L312.48,451.33 L313.7,451.38 L314.91,451.43 L316.13,451.48 L317.34,451.52 L318.56,451.55 L319.77,451.59" fill="none" stroke="#1ec41e" stroke-width="1.3"/>
<path d="M111.51,317.22 L112.55,317.23 L113.59,317.23 L114.63,317.23 L115.68,317.23 L116.72,317.23 L117.76,317.24 L118.8,317.24 L119.84,317.24 L120.88,317.24 L121.92,317.25 L122.96,317.25 L124.01,317.25 L125.05,317.26 L126.09,317.26 L127.13,317.27 L128.17,317.27 L129.21,317.28 L130.25,317.28 L131.29,317.29 L132.34,317.29 L133.38,317.3 L134.42,317.31 L135.46,317.31 L136.5,317.32 L137.54,317.33 L138.58,317.34 L139.63,317.35 L140.67,317.36 L141.71,317.37 L142.75,317.38 L143.79,317.4 L144.83,317.41 L145.87,317.43 L146.91,317.44 L147.96,317.46 L149,317.48 L150.04,317.5 L151.08,317.52 L152.12,317.54 L153.16,317.56 L154.2,317.59 L155.24,317.62 L156.29,317.65 L157.33,317.68 L158.37,317.71 L159.41,317.75 L160.45,317.79 L161.49,317.83 L162.53,317.87 L163.57,317.92 L164.62,317.97 L165.66,318.03 L166.7,318.09 L167.74,318.15 L168.78,318.22 L169.82,318.29 L170.86,318.36 L171.91,318.44 L172.95,318.53 L173.99,318.63 L175.03,318.73 L176.07,318.83 L177.11,318.95 L178.15,319.07 L179.19,319.2 L180.24,319.34 L181.28,319.49 L182.32,319.65 L183.36,319.82 L184.4,320 L185.44,320.19 L186.48,320.4 L187.52,320.62 L188.57,320.86 L189.61,321.11 L190.65,321.38 L191.69,321.67 L192.73,321.97 L193.77,322.3 L194.81,322.64 L195.86,323.01 L196.9,323.41 L197.94,323.82 L198.98,324.27 L200.02,324.74 L201.06,325.25 L202.1,325.78 L203.14,326.35 L204.19,326.95 L205.23,327.59 L206.27,328.26 L207.31,328.98 L208.35,329.74 L209.39,330.54 L210.43,331.39 L211.47,332.28 L212.52,333.22 L213.56,334.22 L214.6,335.26 L215.64,336.36 L216.68,337.51 L217.72,338.73 L218.76,339.99 L219.81,341.32 L220.85,342.71 L221.89,344.16 L222.93,345.66 L223.97,347.23 L225.01,348.86 L226.05,350.55 L227.09,352.3 L228.14,354.11 L229.18,355.98 L230.22,357.9 L231.26,359.87 L232.3,361.89 L233.34,363.96 L234.38,366.08 L235.42,368.23 L236.47,370.42 L237.51,372.64 L238.55,374.89 L239.59,377.16 L240.63,379.45 L241.67,381.75 L242.71,384.06 L243.76,386.37 L244.8,388.67 L245.84,390.97 L246.88,393.25 L247.92,395.51 L248.96,397.75 L250,399.95 L251.04,402.12 L252.09,404.26 L253.13,406.35 L254.17,408.39 L255.21,410.39 L256.25,412.34 L257.29,414.23 L258.33,416.06 L259.37,417.84 L260.42,419.56 L261.46,421.21 L262.5,422.81 L263.54,424.35 L264.58,425.82 L265.62,427.24 L266.66,428.59 L267.7,429.89 L268.75,431.13 L269.79,432.31 L270.83,433.43 L271.87,434.5 L272.91,435.52 L273.95,436.49 L274.99,437.4 L276.04,438.27 L277.08,439.09 L278.12,439.87 L279.16,440.61 L280.2,441.3 L281.24,441.96 L282.28,442.58 L283.32,443.16 L284.37,443.71 L285.41,444.23 L286.45,444.71 L287.49,445.17 L288.53,445.6 L289.57,446.01 L290.61,446.39 L291.65,446.74 L292.7,447.08 L293.74,447.39 L294.78,447.69 L295.82,447.97 L296.86,448.23 L297.9,448.47 L298.94,448.7 L299.99,448.91 L301.03,449.11 L302.07,449.3 L303.11,449.47 L304.15,449.64 L305.19,449.79 L306.23,449.94 L307.27,450.07 L308.32,450.2 L309.36,450.32 L310.4,450.43 L311.44,450.53 L312.48,450.63 L313.52,450.72 L314.56,450.8 L315.6,450.88 L316.65,450.95 L317.69,451.02 L318.73,451.09 L319.77,451.15" fill="none" stroke="#ff2a2a" stroke-width="1.3"/>
<path d="M76.8,323.27 L78.01,323.27 L79.23,323.27 L80.44,323.27 L81.66,323.27 L82.87,323.27 L84.09,323.27 L85.3,323.27 L86.52,323.27 L87.73,323.27 L88.95,323.27 L90.16,323.27 L91.38,323.27 L92.59,323.27 L93.81,323.27 L95.02,323.27 L96.24,323.27 L97.45,323.27 L98.67,323.27 L99.88,323.27 L101.1,323.27 L102.31,323.27 L103.53,323.27 L104.74,323.27 L105.96,323.27 L107.17,323.27 L108.39,323.27 L109.6,323.27 L110.82,323.27 L112.03,323.27 L113.25,323.27 L114.46,323.27 L115.68,323.27 L116.89,323.28 L118.1,323.28 L119.32,323.28 L120.53,323.28 L121.75,323.28 L122.96,323.28 L124.18,323.28 L125.39,323.28 L126.61,323.28 L127.82,323.29 L129.04,323.29 L130.25,323.29 L131.47,323.29 L132.68,323.29 L133.9,323.3 L135.11,323.3 L136.33,323.3 L137.54,323.31 L138.76,323.31 L139.97,323.31 L141.19,323.32 L142.4,323.32 L143.62,323.33 L144.83,323.33 L146.05,323.34 L147.26,323.34 L148.48,323.35 L149.69,323.36 L150.91,323.36 L152.12,323.37 L153.34,323.38 L154.55,323.39 L155.77,323.4 L156.98,323.42 L158.19,323.43 L159.41,323.44 L160.62,323.46 L161.84,323.48 L163.05,323.49 L164.27,323.51 L165.48,323.54 L166.7,323.56 L167.91,323.58 L169.13,323.61 L170.34,323.64 L171.56,323.68 L172.77,323.71 L173.99,323.75 L175.2,323.79 L176.42,323.84 L177.63,323.89 L178.85,323.94 L180.06,324 L181.28,324.06 L182.49,324.13 L183.71,324.21 L184.92,324.29 L186.14,324.38 L187.35,324.48 L188.57,324.58 L189.78,324.69 L191,324.82 L192.21,324.95 L193.43,325.1 L194.64,325.25 L195.86,325.43 L197.07,325.61 L198.28,325.81 L199.5,326.03 L200.71,326.27 L201.93,326.52 L203.14,326.8 L204.36,327.1 L205.57,327.42 L206.79,327.77 L208,328.15 L209.22,328.56 L210.43,329 L211.65,329.48 L212.86,330 L214.08,330.55 L215.29,331.15 L216.51,331.79 L217.72,332.48 L218.94,333.23 L220.15,334.03 L221.37,334.88 L222.58,335.8 L223.8,336.78 L225.01,337.83 L226.23,338.94 L227.44,340.14 L228.66,341.4 L229.87,342.75 L231.09,344.17 L232.3,345.68 L233.52,347.28 L234.73,348.96 L235.95,350.73 L237.16,352.58 L238.38,354.52 L239.59,356.55 L240.8,358.66 L242.02,360.85 L243.23,363.12 L244.45,365.46 L245.66,367.87 L246.88,370.34 L248.09,372.87 L249.31,375.45 L250.52,378.07 L251.74,380.72 L252.95,383.4 L254.17,386.09 L255.38,388.79 L256.6,391.48 L257.81,394.16 L259.03,396.82 L260.24,399.44 L261.46,402.03 L262.67,404.57 L263.89,407.05 L265.1,409.47 L266.32,411.82 L267.53,414.1 L268.75,416.3 L269.96,418.42 L271.18,420.46 L272.39,422.41 L273.61,424.28 L274.82,426.06 L276.04,427.75 L277.25,429.36 L278.47,430.88 L279.68,432.32 L280.89,433.68 L282.11,434.95 L283.32,436.16 L284.54,437.28 L285.75,438.34 L286.97,439.33 L288.18,440.26 L289.4,441.12 L290.61,441.93 L291.83,442.68 L293.04,443.38 L294.26,444.03 L295.47,444.63 L296.69,445.19 L297.9,445.71 L299.12,446.2 L300.33,446.64 L301.55,447.06 L302.76,447.44 L303.98,447.8 L305.19,448.12 L306.41,448.43 L307.62,448.71 L308.84,448.97 L310.05,449.2 L311.27,449.42 L312.48,449.63 L313.7,449.81 L314.91,449.99 L316.13,450.15 L317.34,450.29 L318.56,450.43 L319.77,450.55" fill="none" stroke="#2a2aff" stroke-width="1.3"/>
<path d="M76.8,290.24 V452 H319.77" fill="none" stroke="#000" stroke-width="1.9"/>
<line x1="70" y1="452" x2="76.8" y2="452" stroke="#000" stroke-width="1.9"/>
<text transform="translate(67.3,456.6) scale(0.9174,1)" text-anchor="end" style="font-family:'Liberation Sans',sans-serif;font-weight:bold;stroke:#000;stroke-width:0.35px;font-size:12.54px">0</text>
<line x1="70" y1="384.6" x2="76.8" y2="384.6" stroke="#000" stroke-width="1.9"/>
<text transform="translate(67.3,389.2) scale(0.9174,1)" text-anchor="end" style="font-family:'Liberation Sans',sans-serif;font-weight:bold;stroke:#000;stroke-width:0.35px;font-size:12.54px">50</text>
<line x1="70" y1="317.2" x2="76.8" y2="317.2" stroke="#000" stroke-width="1.9"/>
<text transform="translate(67.3,321.8) scale(0.9174,1)" text-anchor="end" style="font-family:'Liberation Sans',sans-serif;font-weight:bold;stroke:#000;stroke-width:0.35px;font-size:12.54px">100</text>
<line x1="73" y1="418.3" x2="76.8" y2="418.3" stroke="#000" stroke-width="1.9"/>
<line x1="73" y1="350.9" x2="76.8" y2="350.9" stroke="#000" stroke-width="1.9"/>
<line x1="76.8" y1="452" x2="76.8" y2="458.6" stroke="#000" stroke-width="1.9"/>
<text transform="translate(77,472.9) scale(0.9174,1)" text-anchor="middle" style="font-family:'Liberation Sans',sans-serif;font-weight:bold;stroke:#000;stroke-width:0.35px;font-size:12.54px">-4</text>
<line x1="146.22" y1="452" x2="146.22" y2="458.6" stroke="#000" stroke-width="1.9"/>
<text transform="translate(146.42,472.9) scale(0.9174,1)" text-anchor="middle" style="font-family:'Liberation Sans',sans-serif;font-weight:bold;stroke:#000;stroke-width:0.35px;font-size:12.54px">-2</text>
<line x1="215.64" y1="452" x2="215.64" y2="458.6" stroke="#000" stroke-width="1.9"/>
<text transform="translate(215.84,472.9) scale(0.9174,1)" text-anchor="middle" style="font-family:'Liberation Sans',sans-serif;font-weight:bold;stroke:#000;stroke-width:0.35px;font-size:12.54px">0</text>
<line x1="285.06" y1="452" x2="285.06" y2="458.6" stroke="#000" stroke-width="1.9"/>
<text transform="translate(285.26,472.9) scale(0.9174,1)" text-anchor="middle" style="font-family:'Liberation Sans',sans-serif;font-weight:bold;stroke:#000;stroke-width:0.35px;font-size:12.54px">2</text>
<line x1="76.8" y1="290.24" x2="76.8" y2="301.16" stroke="#1ec41e" stroke-width="1.3"/>
<line x1="73.4" y1="301.16" x2="80.2" y2="301.16" stroke="#1ec41e" stroke-width="1.3"/>
<line x1="111.51" y1="328.25" x2="111.51" y2="336.34" stroke="#1ec41e" stroke-width="1.3"/>
<line x1="108.11" y1="328.25" x2="114.91" y2="328.25" stroke="#1ec41e" stroke-width="1.3"/>
<line x1="108.11" y1="336.34" x2="114.91" y2="336.34" stroke="#1ec41e" stroke-width="1.3"/>
<line x1="146.22" y1="317" x2="146.22" y2="334.66" stroke="#1ec41e" stroke-width="1.3"/>
<line x1="142.82" y1="317" x2="149.62" y2="317" stroke="#1ec41e" stroke-width="1.3"/>
<line x1="142.82" y1="334.66" x2="149.62" y2="334.66" stroke="#1ec41e" stroke-width="1.3"/>
<line x1="180.93" y1="335.8" x2="180.93" y2="355.48" stroke="#1ec41e" stroke-width="1.3"/>
<line x1="177.53" y1="335.8" x2="184.33" y2="335.8" stroke="#1ec41e" stroke-width="1.3"/>
<line x1="177.53" y1="355.48" x2="184.33" y2="355.48" stroke="#1ec41e" stroke-width="1.3"/>
<line x1="215.64" y1="345.51" x2="215.64" y2="358.18" stroke="#1ec41e" stroke-width="1.3"/>
<line x1="212.24" y1="345.51" x2="219.04" y2="345.51" stroke="#1ec41e" stroke-width="1.3"/>
<line x1="212.24" y1="358.18" x2="219.04" y2="358.18" stroke="#1ec41e" stroke-width="1.3"/>
<line x1="250.35" y1="411.43" x2="250.35" y2="420.59" stroke="#1ec41e" stroke-width="1.3"/>
<line x1="246.95" y1="411.43" x2="253.75" y2="411.43" stroke="#1ec41e" stroke-width="1.3"/>
<line x1="246.95" y1="420.59" x2="253.75" y2="420.59" stroke="#1ec41e" stroke-width="1.3"/>
<path d="M76.8,291.12 L80.2,296.92 L73.4,296.92 Z" fill="#00c000"/>
<path d="M111.51,329 L114.91,334.8 L108.11,334.8 Z" fill="#00c000"/>
<path d="M146.22,322.53 L149.62,328.33 L142.82,328.33 Z" fill="#00c000"/>
<path d="M180.93,342.34 L184.33,348.14 L177.53,348.14 Z" fill="#00c000"/>
<path d="M215.64,348.54 L219.04,354.34 L212.24,354.34 Z" fill="#00c000"/>
<path d="M250.35,412.71 L253.75,418.51 L246.95,418.51 Z" fill="#00c000"/>
<path d="M285.06,448.03 L288.46,453.83 L281.66,453.83 Z" fill="#00c000"/>
<path d="M319.77,448.7 L323.17,454.5 L316.37,454.5 Z" fill="#00c000"/>
<line x1="111.51" y1="327.98" x2="111.51" y2="349.28" stroke="#ff2a2a" stroke-width="1.3"/>
<line x1="108.11" y1="327.98" x2="114.91" y2="327.98" stroke="#ff2a2a" stroke-width="1.3"/>
<line x1="108.11" y1="349.28" x2="114.91" y2="349.28" stroke="#ff2a2a" stroke-width="1.3"/>
<line x1="180.93" y1="313.02" x2="180.93" y2="342.14" stroke="#ff2a2a" stroke-width="1.3"/>
<line x1="177.53" y1="313.02" x2="184.33" y2="313.02" stroke="#ff2a2a" stroke-width="1.3"/>
<line x1="177.53" y1="342.14" x2="184.33" y2="342.14" stroke="#ff2a2a" stroke-width="1.3"/>
<line x1="215.64" y1="333.24" x2="215.64" y2="344.83" stroke="#ff2a2a" stroke-width="1.3"/>
<line x1="212.24" y1="333.24" x2="219.04" y2="333.24" stroke="#ff2a2a" stroke-width="1.3"/>
<line x1="212.24" y1="344.83" x2="219.04" y2="344.83" stroke="#ff2a2a" stroke-width="1.3"/>
<rect x="108.31" y="335.43" width="6.4" height="6.4" fill="#ff0000"/>
<rect x="177.73" y="324.38" width="6.4" height="6.4" fill="#ff0000"/>
<rect x="212.44" y="335.84" width="6.4" height="6.4" fill="#ff0000"/>
<rect x="247.15" y="397.44" width="6.4" height="6.4" fill="#ff0000"/>
<rect x="281.86" y="445.7" width="6.4" height="6.4" fill="#ff0000"/>
<rect x="316.57" y="448.8" width="6.4" height="6.4" fill="#ff0000"/>
<line x1="76.8" y1="308.98" x2="76.8" y2="326.37" stroke="#2a2aff" stroke-width="1.3"/>
<line x1="73.4" y1="308.98" x2="80.2" y2="308.98" stroke="#2a2aff" stroke-width="1.3"/>
<line x1="73.4" y1="326.37" x2="80.2" y2="326.37" stroke="#2a2aff" stroke-width="1.3"/>
<line x1="111.51" y1="297.52" x2="111.51" y2="323.4" stroke="#2a2aff" stroke-width="1.3"/>
<line x1="108.11" y1="297.52" x2="114.91" y2="297.52" stroke="#2a2aff" stroke-width="1.3"/>
<line x1="108.11" y1="323.4" x2="114.91" y2="323.4" stroke="#2a2aff" stroke-width="1.3"/>
<line x1="146.22" y1="309.79" x2="146.22" y2="336.75" stroke="#2a2aff" stroke-width="1.3"/>
<line x1="142.82" y1="309.79" x2="149.62" y2="309.79" stroke="#2a2aff" stroke-width="1.3"/>
<line x1="142.82" y1="336.75" x2="149.62" y2="336.75" stroke="#2a2aff" stroke-width="1.3"/>
<line x1="180.93" y1="323.81" x2="180.93" y2="345.1" stroke="#2a2aff" stroke-width="1.3"/>
<line x1="177.53" y1="323.81" x2="184.33" y2="323.81" stroke="#2a2aff" stroke-width="1.3"/>
<line x1="177.53" y1="345.1" x2="184.33" y2="345.1" stroke="#2a2aff" stroke-width="1.3"/>
<line x1="215.64" y1="318.28" x2="215.64" y2="368.15" stroke="#2a2aff" stroke-width="1.3"/>
<line x1="212.24" y1="318.28" x2="219.04" y2="318.28" stroke="#2a2aff" stroke-width="1.3"/>
<line x1="212.24" y1="368.15" x2="219.04" y2="368.15" stroke="#2a2aff" stroke-width="1.3"/>
<line x1="250.35" y1="369.64" x2="250.35" y2="381.5" stroke="#2a2aff" stroke-width="1.3"/>
<line x1="246.95" y1="369.64" x2="253.75" y2="369.64" stroke="#2a2aff" stroke-width="1.3"/>
<line x1="246.95" y1="381.5" x2="253.75" y2="381.5" stroke="#2a2aff" stroke-width="1.3"/>
<circle cx="76.8" cy="317.67" r="3.2" fill="#0000ff"/>
<circle cx="111.51" cy="310.46" r="3.2" fill="#0000ff"/>
<circle cx="146.22" cy="323.27" r="3.2" fill="#0000ff"/>
<circle cx="180.93" cy="334.45" r="3.2" fill="#0000ff"/>
<circle cx="215.64" cy="343.22" r="3.2" fill="#0000ff"/>
<circle cx="250.35" cy="375.57" r="3.2" fill="#0000ff"/>
<circle cx="285.06" cy="438.12" r="3.2" fill="#0000ff"/>
<circle cx="319.77" cy="451.73" r="3.2" fill="#0000ff"/>
<text transform="translate(198.28,494) scale(0.9259,1)" text-anchor="middle" style="font-family:'Liberation Sans',sans-serif;font-weight:bold;stroke:#000;stroke-width:0.3px;font-size:14.04px">log conc. / nmol L<tspan dy="-4.2" font-size="10.80px">-1</tspan></text>
<text transform="translate(40.2,371.12) rotate(-90) scale(0.9259,1)" text-anchor="middle" style="font-family:'Liberation Sans',sans-serif;font-weight:bold;stroke:#000;stroke-width:0.3px;font-size:14.04px">% radioactivity normalized / AU</text>
<line x1="111.1" y1="382.3" x2="128.9" y2="382.3" stroke="#2a2aff" stroke-width="1.3"/>
<circle cx="119.9" cy="382.3" r="3.2" fill="#0000ff"/>
<line x1="111.1" y1="405.5" x2="128.9" y2="405.5" stroke="#ff2a2a" stroke-width="1.3"/>
<rect x="116.7" y="402.3" width="6.4" height="6.4" fill="#ff0000"/>
<line x1="111.1" y1="425.6" x2="128.9" y2="425.6" stroke="#1ec41e" stroke-width="1.3"/>
<path d="M119.9,422.2 L123.5,428.5 L116.3,428.5 Z" fill="#00c000"/>
<text transform="translate(138.7,386.6) scale(0.9346,1)" style="font-family:'Liberation Sans',sans-serif;stroke:#000;stroke-width:0.35px;font-size:13.91px">PSMA-11</text>
<text transform="translate(138.4,409.8) scale(0.9346,1)" style="font-family:'Liberation Sans',sans-serif;font-weight:bold;stroke:#000;stroke-width:0.3px;font-size:13.91px">9</text>
<text transform="translate(137.4,433.1) scale(0.9346,1)" style="font-family:'Liberation Sans',sans-serif;stroke:#000;stroke-width:0.35px;font-size:13.91px"><tspan font-size="10.38px" dy="-4.9">nat</tspan><tspan dy="4.9" dx="0.6">Ga-</tspan><tspan font-weight="bold" font-size="13.91px">9</tspan></text>
<line x1="520.3" y1="448.02" x2="543.1" y2="448.02" stroke="#000" stroke-width="2"/>
<rect x="573" y="346.06" width="38.8" height="103.04" fill="#fff" stroke="#000" stroke-width="2"/>
<clipPath id="cp1"><rect x="573" y="442.32" width="38.8" height="6.78"/></clipPath><g clip-path="url(#cp1)"><rect x="573" y="442.32" width="38.8" height="6.78" fill="#fff"/><path d="M567.15,436.85h3.3v3.3h-3.3zM573.75,436.85h3.3v3.3h-3.3zM580.35,436.85h3.3v3.3h-3.3zM586.95,436.85h3.3v3.3h-3.3zM593.55,436.85h3.3v3.3h-3.3zM600.15,436.85h3.3v3.3h-3.3zM606.75,436.85h3.3v3.3h-3.3zM613.35,436.85h3.3v3.3h-3.3zM570.45,440.15h3.3v3.3h-3.3zM577.05,440.15h3.3v3.3h-3.3zM583.65,440.15h3.3v3.3h-3.3zM590.25,440.15h3.3v3.3h-3.3zM596.85,440.15h3.3v3.3h-3.3zM603.45,440.15h3.3v3.3h-3.3zM610.05,440.15h3.3v3.3h-3.3zM567.15,443.45h3.3v3.3h-3.3zM573.75,443.45h3.3v3.3h-3.3zM580.35,443.45h3.3v3.3h-3.3zM586.95,443.45h3.3v3.3h-3.3zM593.55,443.45h3.3v3.3h-3.3zM600.15,443.45h3.3v3.3h-3.3zM606.75,443.45h3.3v3.3h-3.3zM613.35,443.45h3.3v3.3h-3.3zM570.45,446.75h3.3v3.3h-3.3zM577.05,446.75h3.3v3.3h-3.3zM583.65,446.75h3.3v3.3h-3.3zM590.25,446.75h3.3v3.3h-3.3zM596.85,446.75h3.3v3.3h-3.3zM603.45,446.75h3.3v3.3h-3.3zM610.05,446.75h3.3v3.3h-3.3zM567.15,450.05h3.3v3.3h-3.3zM573.75,450.05h3.3v3.3h-3.3zM580.35,450.05h3.3v3.3h-3.3zM586.95,450.05h3.3v3.3h-3.3zM593.55,450.05h3.3v3.3h-3.3zM600.15,450.05h3.3v3.3h-3.3zM606.75,450.05h3.3v3.3h-3.3zM613.35,450.05h3.3v3.3h-3.3z" fill="#000"/></g>
<rect x="573" y="442.32" width="38.8" height="6.78" fill="none" stroke="#000" stroke-width="2"/>
<line x1="592.4" y1="346.06" x2="592.4" y2="331.15" stroke="#000" stroke-width="2"/>
<line x1="581.4" y1="331.15" x2="603.4" y2="331.15" stroke="#000" stroke-width="2"/>
<line x1="592.4" y1="442.32" x2="592.4" y2="438.25" stroke="#000" stroke-width="2"/>
<line x1="581.4" y1="438.25" x2="603.4" y2="438.25" stroke="#000" stroke-width="2"/>
<rect x="634.3" y="398.02" width="38.8" height="51.08" fill="#fff" stroke="#000" stroke-width="2"/>
<clipPath id="cp2"><rect x="634.3" y="426.27" width="38.8" height="22.83"/></clipPath><g clip-path="url(#cp2)"><rect x="634.3" y="426.27" width="38.8" height="22.83" fill="#fff"/><path d="M633.75,420.55h3.3v3.3h-3.3zM640.35,420.55h3.3v3.3h-3.3zM646.95,420.55h3.3v3.3h-3.3zM653.55,420.55h3.3v3.3h-3.3zM660.15,420.55h3.3v3.3h-3.3zM666.75,420.55h3.3v3.3h-3.3zM673.35,420.55h3.3v3.3h-3.3zM630.45,423.85h3.3v3.3h-3.3zM637.05,423.85h3.3v3.3h-3.3zM643.65,423.85h3.3v3.3h-3.3zM650.25,423.85h3.3v3.3h-3.3zM656.85,423.85h3.3v3.3h-3.3zM663.45,423.85h3.3v3.3h-3.3zM670.05,423.85h3.3v3.3h-3.3zM633.75,427.15h3.3v3.3h-3.3zM640.35,427.15h3.3v3.3h-3.3zM646.95,427.15h3.3v3.3h-3.3zM653.55,427.15h3.3v3.3h-3.3zM660.15,427.15h3.3v3.3h-3.3zM666.75,427.15h3.3v3.3h-3.3zM673.35,427.15h3.3v3.3h-3.3zM630.45,430.45h3.3v3.3h-3.3zM637.05,430.45h3.3v3.3h-3.3zM643.65,430.45h3.3v3.3h-3.3zM650.25,430.45h3.3v3.3h-3.3zM656.85,430.45h3.3v3.3h-3.3zM663.45,430.45h3.3v3.3h-3.3zM670.05,430.45h3.3v3.3h-3.3zM633.75,433.75h3.3v3.3h-3.3zM640.35,433.75h3.3v3.3h-3.3zM646.95,433.75h3.3v3.3h-3.3zM653.55,433.75h3.3v3.3h-3.3zM660.15,433.75h3.3v3.3h-3.3zM666.75,433.75h3.3v3.3h-3.3zM673.35,433.75h3.3v3.3h-3.3zM630.45,437.05h3.3v3.3h-3.3zM637.05,437.05h3.3v3.3h-3.3zM643.65,437.05h3.3v3.3h-3.3zM650.25,437.05h3.3v3.3h-3.3zM656.85,437.05h3.3v3.3h-3.3zM663.45,437.05h3.3v3.3h-3.3zM670.05,437.05h3.3v3.3h-3.3zM633.75,440.35h3.3v3.3h-3.3zM640.35,440.35h3.3v3.3h-3.3zM646.95,440.35h3.3v3.3h-3.3zM653.55,440.35h3.3v3.3h-3.3zM660.15,440.35h3.3v3.3h-3.3zM666.75,440.35h3.3v3.3h-3.3zM673.35,440.35h3.3v3.3h-3.3zM630.45,443.65h3.3v3.3h-3.3zM637.05,443.65h3.3v3.3h-3.3zM643.65,443.65h3.3v3.3h-3.3zM650.25,443.65h3.3v3.3h-3.3zM656.85,443.65h3.3v3.3h-3.3zM663.45,443.65h3.3v3.3h-3.3zM670.05,443.65h3.3v3.3h-3.3zM633.75,446.95h3.3v3.3h-3.3zM640.35,446.95h3.3v3.3h-3.3zM646.95,446.95h3.3v3.3h-3.3zM653.55,446.95h3.3v3.3h-3.3zM660.15,446.95h3.3v3.3h-3.3zM666.75,446.95h3.3v3.3h-3.3zM673.35,446.95h3.3v3.3h-3.3zM630.45,450.25h3.3v3.3h-3.3zM637.05,450.25h3.3v3.3h-3.3zM643.65,450.25h3.3v3.3h-3.3zM650.25,450.25h3.3v3.3h-3.3zM656.85,450.25h3.3v3.3h-3.3zM663.45,450.25h3.3v3.3h-3.3zM670.05,450.25h3.3v3.3h-3.3z" fill="#000"/></g>
<rect x="634.3" y="426.27" width="38.8" height="22.83" fill="none" stroke="#000" stroke-width="2"/>
<line x1="653.7" y1="398.02" x2="653.7" y2="393.84" stroke="#000" stroke-width="2"/>
<line x1="642.7" y1="393.84" x2="664.7" y2="393.84" stroke="#000" stroke-width="2"/>
<line x1="653.7" y1="426.27" x2="653.7" y2="424.1" stroke="#000" stroke-width="2"/>
<line x1="642.7" y1="424.1" x2="664.7" y2="424.1" stroke="#000" stroke-width="2"/>
<path d="M440.8,286.41 V449.1 H683.5" fill="none" stroke="#000" stroke-width="1.9"/>
<line x1="435.6" y1="449.1" x2="440.8" y2="449.1" stroke="#000" stroke-width="1.9"/>
<text transform="translate(431.9,453.2) scale(0.9174,1)" text-anchor="end" style="font-family:'Liberation Sans',sans-serif;font-weight:bold;stroke:#000;stroke-width:0.35px;font-size:12.54px">0</text>
<line x1="435.6" y1="421.99" x2="440.8" y2="421.99" stroke="#000" stroke-width="1.9"/>
<text transform="translate(431.9,426.09) scale(0.9174,1)" text-anchor="end" style="font-family:'Liberation Sans',sans-serif;font-weight:bold;stroke:#000;stroke-width:0.35px;font-size:12.54px">5</text>
<line x1="435.6" y1="394.87" x2="440.8" y2="394.87" stroke="#000" stroke-width="1.9"/>
<text transform="translate(431.9,398.97) scale(0.9174,1)" text-anchor="end" style="font-family:'Liberation Sans',sans-serif;font-weight:bold;stroke:#000;stroke-width:0.35px;font-size:12.54px">10</text>
<line x1="435.6" y1="367.75" x2="440.8" y2="367.75" stroke="#000" stroke-width="1.9"/>
<text transform="translate(431.9,371.86) scale(0.9174,1)" text-anchor="end" style="font-family:'Liberation Sans',sans-serif;font-weight:bold;stroke:#000;stroke-width:0.35px;font-size:12.54px">15</text>
<line x1="435.6" y1="340.64" x2="440.8" y2="340.64" stroke="#000" stroke-width="1.9"/>
<text transform="translate(431.9,344.74) scale(0.9174,1)" text-anchor="end" style="font-family:'Liberation Sans',sans-serif;font-weight:bold;stroke:#000;stroke-width:0.35px;font-size:12.54px">20</text>
<line x1="435.6" y1="313.53" x2="440.8" y2="313.53" stroke="#000" stroke-width="1.9"/>
<text transform="translate(431.9,317.63) scale(0.9174,1)" text-anchor="end" style="font-family:'Liberation Sans',sans-serif;font-weight:bold;stroke:#000;stroke-width:0.35px;font-size:12.54px">25</text>
<line x1="435.6" y1="286.41" x2="440.8" y2="286.41" stroke="#000" stroke-width="1.9"/>
<text transform="translate(431.9,290.51) scale(0.9174,1)" text-anchor="end" style="font-family:'Liberation Sans',sans-serif;font-weight:bold;stroke:#000;stroke-width:0.35px;font-size:12.54px">30</text>
<line x1="470.7" y1="449.1" x2="470.7" y2="454.1" stroke="#000" stroke-width="1.9"/>
<text transform="translate(474.3,465.9) rotate(-45) scale(0.9346,1)" text-anchor="end" style="font-family:'Liberation Sans',sans-serif;font-weight:bold;stroke:#000;stroke-width:0.3px;font-size:13.05px">[<tspan font-size='10.17px' dy='-4.5'>68</tspan><tspan dy='4.5'>Ga]Ga-7</tspan></text>
<line x1="531.7" y1="449.1" x2="531.7" y2="454.1" stroke="#000" stroke-width="1.9"/>
<text transform="translate(535.3,465.9) rotate(-45) scale(0.9346,1)" text-anchor="end" style="font-family:'Liberation Sans',sans-serif;font-weight:bold;stroke:#000;stroke-width:0.3px;font-size:13.05px">[<tspan font-size='10.17px' dy='-4.5'>68</tspan><tspan dy='4.5'>Ga]Ga-8</tspan></text>
<line x1="592.4" y1="449.1" x2="592.4" y2="454.1" stroke="#000" stroke-width="1.9"/>
<text transform="translate(596,465.9) rotate(-45) scale(0.9346,1)" text-anchor="end" style="font-family:'Liberation Sans',sans-serif;font-weight:bold;stroke:#000;stroke-width:0.3px;font-size:13.05px">[<tspan font-size='10.17px' dy='-4.5'>68</tspan><tspan dy='4.5'>Ga]Ga-9</tspan></text>
<line x1="653.7" y1="449.1" x2="653.7" y2="454.1" stroke="#000" stroke-width="1.9"/>
<text transform="translate(657.3,465.9) rotate(-45) scale(0.9346,1)" text-anchor="end" style="font-family:'Liberation Sans',sans-serif;font-weight:bold;stroke:#000;stroke-width:0.3px;font-size:13.05px">[<tspan font-size='10.17px' dy='-4.5'>68</tspan><tspan dy='4.5'>Ga]Ga-PSMA-11</tspan></text>
<clipPath id="cp3"><rect x="455.6" y="297.3" width="17.4" height="9.6"/></clipPath><g clip-path="url(#cp3)"><rect x="455.6" y="297.3" width="17.4" height="9.6" fill="#fff"/><path d="M451.05,291.15h3.3v3.3h-3.3zM457.65,291.15h3.3v3.3h-3.3zM464.25,291.15h3.3v3.3h-3.3zM470.85,291.15h3.3v3.3h-3.3zM454.35,294.45h3.3v3.3h-3.3zM460.95,294.45h3.3v3.3h-3.3zM467.55,294.45h3.3v3.3h-3.3zM474.15,294.45h3.3v3.3h-3.3zM451.05,297.75h3.3v3.3h-3.3zM457.65,297.75h3.3v3.3h-3.3zM464.25,297.75h3.3v3.3h-3.3zM470.85,297.75h3.3v3.3h-3.3zM454.35,301.05h3.3v3.3h-3.3zM460.95,301.05h3.3v3.3h-3.3zM467.55,301.05h3.3v3.3h-3.3zM474.15,301.05h3.3v3.3h-3.3zM451.05,304.35h3.3v3.3h-3.3zM457.65,304.35h3.3v3.3h-3.3zM464.25,304.35h3.3v3.3h-3.3zM470.85,304.35h3.3v3.3h-3.3zM454.35,307.65h3.3v3.3h-3.3zM460.95,307.65h3.3v3.3h-3.3zM467.55,307.65h3.3v3.3h-3.3zM474.15,307.65h3.3v3.3h-3.3z" fill="#000"/></g>
<rect x="455.6" y="297.3" width="17.4" height="9.6" fill="none" stroke="#000" stroke-width="2"/>
<rect x="455.3" y="316.8" width="17.4" height="9.3" fill="#fff" stroke="#000" stroke-width="2"/>
<text transform="translate(482.5,306.6) scale(0.9434,1)" style="font-family:'Liberation Sans',sans-serif;stroke:#000;stroke-width:0.25px;font-size:13.78px">surface bound</text>
<text transform="translate(482.5,326) scale(0.9434,1)" style="font-family:'Liberation Sans',sans-serif;stroke:#000;stroke-width:0.25px;font-size:13.78px">internalized</text>
<text transform="translate(394.8,368) rotate(-90) scale(0.9259,1)" text-anchor="middle" style="font-family:'Liberation Sans',sans-serif;font-weight:bold;stroke:#000;stroke-width:0.3px;font-size:14.04px">% activity specifically bound</text>
<text transform="translate(413.5,368) rotate(-90) scale(0.9259,1)" text-anchor="middle" style="font-family:'Liberation Sans',sans-serif;font-weight:bold;stroke:#000;stroke-width:0.3px;font-size:14.04px">to 10<tspan font-size="9.72px" dy="-5">6</tspan><tspan dy="5"> LNCaP cells</tspan></text>
</g>
</svg></body></html>
